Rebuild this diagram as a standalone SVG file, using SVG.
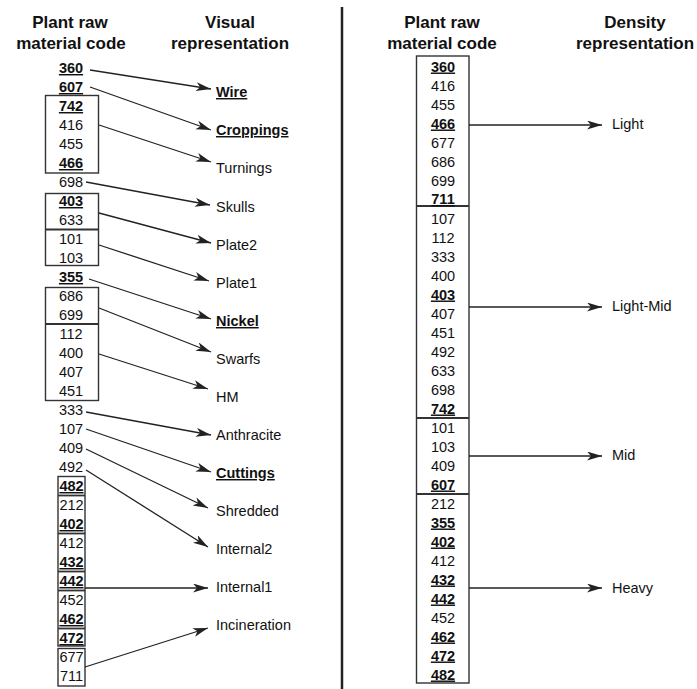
<svg xmlns="http://www.w3.org/2000/svg" width="697" height="689" viewBox="0 0 697 689">
<style>
text{font-family:"Liberation Sans",Arial,sans-serif;fill:#111}
.h{font-size:17px;font-weight:bold;text-anchor:middle}
.n{font-size:14.5px;text-anchor:middle}
.b{font-weight:bold;text-decoration:underline}
.l{font-size:14.5px}
.box{fill:none;stroke:#333;stroke-width:1.4}
.sep{stroke:#333;stroke-width:1.8}
.c line{stroke:#222;stroke-width:1.3;marker-end:url(#ah)}
</style>
<defs>
<marker id="ah" markerUnits="userSpaceOnUse" markerWidth="16" markerHeight="10" refX="15" refY="4.5" orient="auto">
<path d="M0,0 L15,4.5 L0,9 L4,4.5 Z" fill="#222"/>
</marker>
</defs>
<rect width="697" height="689" fill="#fff"/>

<g id="headers">
<text class="h" x="70" y="28">Plant raw</text>
<text class="h" x="71" y="49">material code</text>
<text class="h" x="230" y="28">Visual</text>
<text class="h" x="230" y="49">representation</text>
<text class="h" x="442" y="28">Plant raw</text>
<text class="h" x="442" y="49">material code</text>
<text class="h" x="635" y="28">Density</text>
<text class="h" x="635" y="49">representation</text>
</g>

<line id="divider" x1="342" y1="7" x2="342" y2="689" stroke="#222" stroke-width="2.5"/>

<g id="left-codes">
<rect class="box" x="45.5" y="95.5" width="53" height="77.5"/>
<rect class="box" x="45.5" y="193.5" width="53" height="72"/>
<line class="sep" x1="45.5" y1="229.5" x2="98.5" y2="229.5"/>
<rect class="box" x="45.5" y="287.5" width="53" height="113"/>
<line class="sep" x1="45.5" y1="324" x2="98.5" y2="324"/>
<rect class="box" x="58" y="476.5" width="27" height="169.5"/>
<line class="sep" x1="58" y1="495.5" x2="85" y2="495.5"/>
<line class="sep" x1="58" y1="533.5" x2="85" y2="533.5"/>
<line class="sep" x1="58" y1="571.5" x2="85" y2="571.5"/>
<line class="sep" x1="58" y1="590.5" x2="85" y2="590.5"/>
<line class="sep" x1="58" y1="628.5" x2="85" y2="628.5"/>
<rect class="box" x="58" y="648.5" width="27" height="37.5"/>
<text class="n b" x="71" y="73">360</text>
<text class="n b" x="71" y="92">607</text>
<text class="n b" x="71" y="111">742</text>
<text class="n" x="71" y="130">416</text>
<text class="n" x="71" y="149">455</text>
<text class="n b" x="71" y="168">466</text>
<text class="n" x="71" y="187">698</text>
<text class="n b" x="71" y="206">403</text>
<text class="n" x="71" y="225">633</text>
<text class="n" x="71" y="244">101</text>
<text class="n" x="71" y="263">103</text>
<text class="n b" x="71" y="282">355</text>
<text class="n" x="71" y="301">686</text>
<text class="n" x="71" y="320">699</text>
<text class="n" x="71" y="339">112</text>
<text class="n" x="71" y="358">400</text>
<text class="n" x="71" y="377">407</text>
<text class="n" x="71" y="396">451</text>
<text class="n" x="71" y="415">333</text>
<text class="n" x="71" y="434">107</text>
<text class="n" x="71" y="453">409</text>
<text class="n" x="71" y="472">492</text>
<text class="n b" x="71.5" y="491">482</text>
<text class="n" x="71.5" y="510">212</text>
<text class="n b" x="71.5" y="529">402</text>
<text class="n" x="71.5" y="548">412</text>
<text class="n b" x="71.5" y="567">432</text>
<text class="n b" x="71.5" y="586">442</text>
<text class="n" x="71.5" y="605">452</text>
<text class="n b" x="71.5" y="624">462</text>
<text class="n b" x="71.5" y="643">472</text>
<text class="n" x="71.5" y="662">677</text>
<text class="n" x="71.5" y="681">711</text>
</g>

<g id="visual-labels">
<text class="l b" x="216" y="97">Wire</text>
<text class="l b" x="216" y="135">Croppings</text>
<text class="l" x="216" y="173">Turnings</text>
<text class="l" x="216" y="212">Skulls</text>
<text class="l" x="216" y="250">Plate2</text>
<text class="l" x="216" y="288">Plate1</text>
<text class="l b" x="216" y="326">Nickel</text>
<text class="l" x="216" y="364">Swarfs</text>
<text class="l" x="216" y="402">HM</text>
<text class="l" x="216" y="440">Anthracite</text>
<text class="l b" x="216" y="478">Cuttings</text>
<text class="l" x="216" y="516">Shredded</text>
<text class="l" x="216" y="554">Internal2</text>
<text class="l" x="216" y="592">Internal1</text>
<text class="l" x="216" y="630">Incineration</text>
</g>

<g id="right-codes">
<rect class="box" x="416.5" y="56" width="52.5" height="627"/>
<line class="sep" x1="416.5" y1="206" x2="469" y2="206"/>
<line class="sep" x1="416.5" y1="418" x2="469" y2="418"/>
<line class="sep" x1="416.5" y1="494" x2="469" y2="494"/>
<text class="n b" x="443" y="71.5">360</text>
<text class="n" x="443" y="90.5">416</text>
<text class="n" x="443" y="109.5">455</text>
<text class="n b" x="443" y="128.5">466</text>
<text class="n" x="443" y="147.5">677</text>
<text class="n" x="443" y="166.5">686</text>
<text class="n" x="443" y="185.5">699</text>
<text class="n b" x="443" y="204">711</text>
<text class="n" x="443" y="223.5">107</text>
<text class="n" x="443" y="242.5">112</text>
<text class="n" x="443" y="261.5">333</text>
<text class="n" x="443" y="280.5">400</text>
<text class="n b" x="443" y="299.5">403</text>
<text class="n" x="443" y="318.5">407</text>
<text class="n" x="443" y="337.5">451</text>
<text class="n" x="443" y="356.5">492</text>
<text class="n" x="443" y="375.5">633</text>
<text class="n" x="443" y="394.5">698</text>
<text class="n b" x="443" y="413.5">742</text>
<text class="n" x="443" y="432.5">101</text>
<text class="n" x="443" y="451.5">103</text>
<text class="n" x="443" y="470.5">409</text>
<text class="n b" x="443" y="489.5">607</text>
<text class="n" x="443" y="508.5">212</text>
<text class="n b" x="443" y="527.5">355</text>
<text class="n b" x="443" y="546.5">402</text>
<text class="n" x="443" y="565.5">412</text>
<text class="n b" x="443" y="584.5">432</text>
<text class="n b" x="443" y="603.5">442</text>
<text class="n" x="443" y="622.5">452</text>
<text class="n b" x="443" y="641.5">462</text>
<text class="n b" x="443" y="660.5">472</text>
<text class="n b" x="443" y="679.5">482</text>
</g>

<g id="density-labels">
<text class="l" x="612" y="129">Light</text>
<text class="l" x="612" y="311">Light-Mid</text>
<text class="l" x="612" y="460">Mid</text>
<text class="l" x="612" y="593">Heavy</text>
</g>

<g id="connectors" class="c">
<line x1="90" y1="70" x2="211" y2="89"/>
<line x1="90" y1="87" x2="211" y2="130"/>
<line x1="99" y1="125" x2="211" y2="162"/>
<line x1="86" y1="182" x2="210" y2="205"/>
<line x1="99" y1="213" x2="211" y2="243"/>
<line x1="99" y1="245" x2="209" y2="281"/>
<line x1="89" y1="279" x2="211" y2="319"/>
<line x1="99" y1="308" x2="211" y2="352"/>
<line x1="99" y1="354" x2="208" y2="389"/>
<line x1="86" y1="412" x2="211" y2="435"/>
<line x1="86" y1="429" x2="211" y2="472"/>
<line x1="86" y1="449" x2="208" y2="508"/>
<line x1="86" y1="470" x2="208" y2="547"/>
<line x1="85" y1="588" x2="208" y2="588"/>
<line x1="85" y1="667" x2="208" y2="628"/>
<line x1="469" y1="125" x2="602" y2="125"/>
<line x1="469" y1="307" x2="602" y2="307"/>
<line x1="469" y1="456" x2="602" y2="456"/>
<line x1="469" y1="588" x2="602" y2="588"/>
</g>
</svg>
